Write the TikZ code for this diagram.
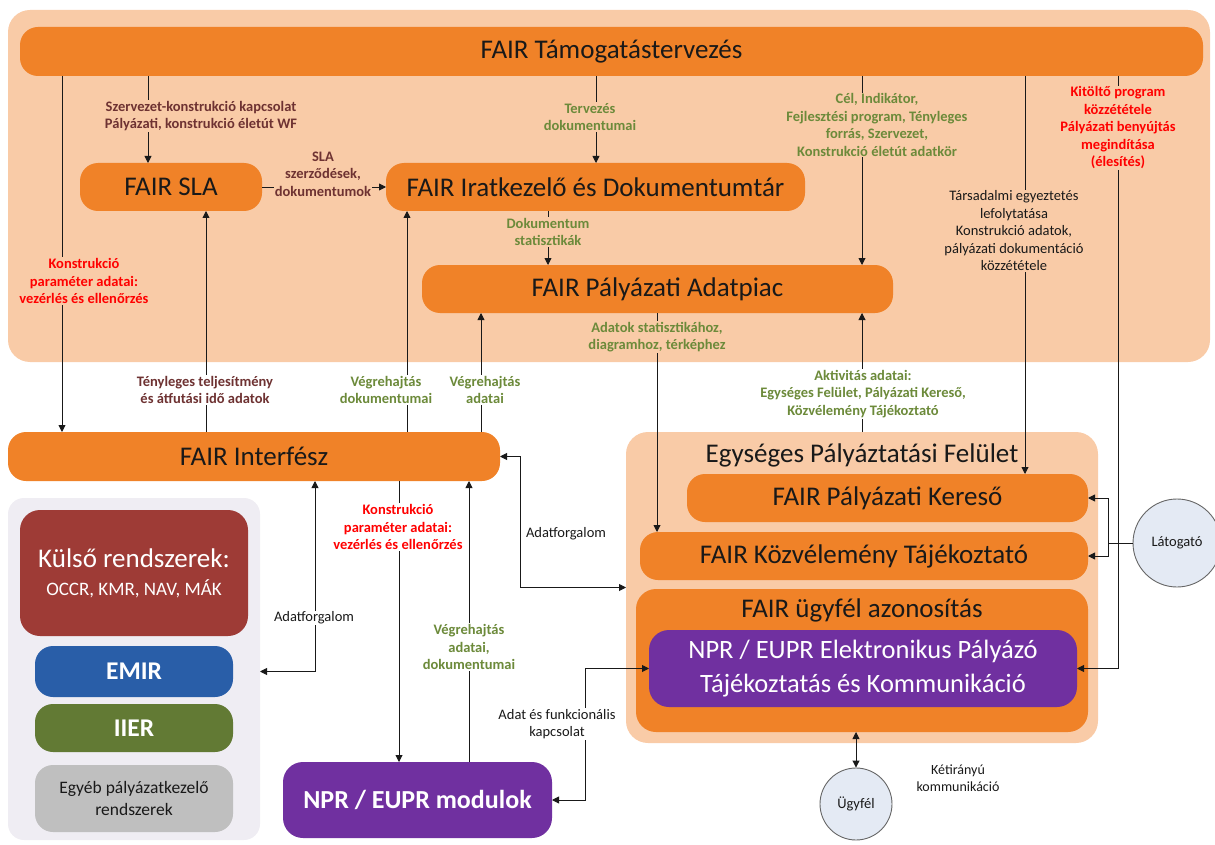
\documentclass[tikz,border=0pt]{standalone}
\usepackage{fontspec}
\setmainfont{Carlito}
\usetikzlibrary{arrows.meta,calc}
\definecolor{orng}{RGB}{240,130,40}
\definecolor{peach}{RGB}{249,203,167}
\definecolor{purp}{RGB}{112,48,160}
\definecolor{dred}{RGB}{158,59,54}
\definecolor{eblue}{RGB}{41,94,168}
\definecolor{egreen}{RGB}{98,122,52}
\definecolor{lgrey}{RGB}{191,191,191}
\definecolor{gpan}{RGB}{239,237,243}
\definecolor{circ}{RGB}{228,234,244}
\definecolor{lgreen}{RGB}{108,138,58}
\definecolor{maroon}{RGB}{110,50,50}
\definecolor{lred}{RGB}{255,0,0}
\definecolor{ink}{RGB}{25,25,25}
\tikzset{
  box/.style={rounded corners=18pt, fill=orng, inner sep=0pt, outer sep=0pt,
    font=\fontsize{27}{32}\selectfont, text=ink, align=center},
  panel/.style={rounded corners=22pt, fill=peach, inner sep=0pt, outer sep=0pt},
  pbox/.style={box, fill=purp, text=white},
  lab/.style={font=\bfseries\fontsize{14.5}{17.5}\selectfont, align=center, inner sep=1pt},
  nlab/.style={font=\fontsize{14.5}{17.5}\selectfont, align=center, inner sep=1pt, text=ink},
  conn/.style={draw=ink, line width=0.9pt},
  arr/.style={conn, -{Triangle[length=7pt,width=7pt]}},
  arrb/.style={conn, {Triangle[length=7pt,width=7pt]}-{Triangle[length=7pt,width=7pt]}},
  person/.style={circle, fill=circ, draw=black!60, line width=0.9pt, inner sep=0pt,
    font=\fontsize{14.5}{16}\selectfont, text=ink}
}
\begin{document}
\begin{tikzpicture}[x=1pt,y=-1pt]
\useasboundingbox (0,0) rectangle (1215,845);
% panels
\node[panel, minimum width=1202pt, minimum height=352pt] (top) at (609,186) {};
\node[panel, fill=gpan, rounded corners=16pt, minimum width=252pt, minimum height=342pt] (gp) at (134,669) {};
\node[panel, minimum width=472pt, minimum height=311pt] (egyp) at (862,587.5) {};
\node[font=\fontsize{27}{32}\selectfont, text=ink] (egyt) at (862,455) {Egységes Pályáztatási Felület};
% main boxes
\node[box, minimum width=1183pt, minimum height=49pt] (tam) at (611.5,51.5) {FAIR Támogatástervezés};
\node[box, minimum width=182pt, minimum height=48pt] (sla) at (171,187) {FAIR SLA};
\node[box, minimum width=419pt, minimum height=48pt] (irat) at (595.5,187) {FAIR Iratkezelő és Dokumentumtár};
\node[box, minimum width=471pt, minimum height=48pt] (adat) at (657.5,289) {FAIR Pályázati Adatpiac};
\node[box, minimum width=492pt, minimum height=49pt] (intf) at (254,456.5) {FAIR Interfész};
\node[box, minimum width=401pt, minimum height=48pt] (ker) at (887.5,498) {FAIR Pályázati Kereső};
\node[box, minimum width=448pt, minimum height=48pt] (koz) at (864,556) {FAIR Közvélemény Tájékoztató};
\node[box, rounded corners=20pt, minimum width=452pt, minimum height=143pt] (ugy) at (862,660.5) {};
\node[font=\fontsize{27}{32}\selectfont, text=ink] (ugyt) at (862,610) {FAIR ügyfél azonosítás};
\node[pbox, rounded corners=20pt, minimum width=428pt, minimum height=77pt, font=\fontsize{26.5}{34}\selectfont] (npre) at (863,668.5) {NPR / EUPR Elektronikus Pályázó\\Tájékoztatás és Kommunikáció};
\node[pbox, rounded corners=20pt, minimum width=269pt, minimum height=76pt, font=\bfseries\fontsize{26}{30}\selectfont] (npr) at (417.5,800) {NPR / EUPR modulok};
% left systems
\node[box, fill=dred, text=white, rounded corners=20pt, minimum width=228pt, minimum height=126pt, font=\fontsize{27}{32}\selectfont] (kul) at (134,573) {Külső rendszerek:\\[-4pt]{\fontsize{19}{22}\selectfont OCCR, KMR, NAV, MÁK}};
\node[box, fill=eblue, text=white, minimum width=198pt, minimum height=51pt, font=\bfseries\fontsize{25.5}{30}\selectfont] (emir) at (134,671.5) {EMIR};
\node[box, fill=egreen, text=white, minimum width=198pt, minimum height=48pt, font=\bfseries\fontsize{25.5}{30}\selectfont] (iier) at (134,728) {IIER};
\node[box, fill=lgrey, text=ink, minimum width=198pt, minimum height=67pt, font=\fontsize{17.5}{22}\selectfont] (egyeb) at (134,798.5) {Egyéb pályázatkezelő\\rendszerek};
% persons
\node[person, minimum size=88pt] (lat) at (1177,543) {Látogató};
\node[person, minimum size=72pt] (ugyf) at (856,804) {Ügyfél};
% helper coordinates
\coordinate (x62) at (62,0);
\coordinate (x148) at (148,0);
\coordinate (x596) at (596,0);
\coordinate (x862) at (862,0);
\coordinate (x1025) at (1025,0);
\coordinate (j7) at (1118,668.5);
\coordinate (x548) at (548,0);
\coordinate (x657) at (657,0);
\coordinate (x206) at (206,0);
\coordinate (x407) at (407,0);
\coordinate (x481) at (481,0);
\coordinate (j14) at (315,671.5);
\coordinate (x399) at (399,0);
\coordinate (x469) at (469,0);
\coordinate (j17) at (520,587.5);
\coordinate (j18) at (585,668.5);
\coordinate (jb) at (1108,543);
% connectors
\draw[arr] (tam.south -| x62) -- (intf.north -| x62);
\draw[arr] (tam.south -| x148) -- (sla.north -| x148);
\draw[arr] (tam.south -| x596) -- (irat.north -| x596);
\draw[arr] (tam.south -| x862) -- (adat.north -| x862);
\draw[arr] (tam.south -| x1025) -- (ker.north -| x1025);
\draw[arr] (tam.south -| j7) -- (j7) -- (npre.east);
\draw[arr] (sla.east) -- (irat.west);
\draw[arr] (irat.south -| x548) -- (adat.north -| x548);
\draw[arr] (adat.south -| x657) -- (koz.north -| x657);
\draw[arr] (egyp.north -| x862) -- (adat.south -| x862);
\draw[arr] (intf.north -| x206) -- (sla.south -| x206);
\draw[arr] (intf.north -| x407) -- (irat.south -| x407);
\draw[arr] (intf.north -| x481) -- (adat.south -| x481);
\draw[arrb] (gp.east |- j14) -- (j14) -- (intf.south -| j14);
\draw[arr] (intf.south -| x399) -- (npr.north -| x399);
\draw[arrb] (intf.east) -| (j17) -- (egyp.west);
\draw[arrb] (npr.east) -| (j18) -- (npre.west);
\draw[conn] (lat.west) -- (jb);
\draw[arr] (jb) |- (ker.east);
\draw[arr] (jb) |- (koz.east);
\draw[arrb] (ugy.south -| ugyf) -- (ugyf.north);
% labels
\node[lab, text=lred, fill=peach] (l1) at (84,281) {Konstrukció\\paraméter adatai:\\vezérlés és ellenőrzés};
\node[lab, text=maroon, fill=peach] (l2) at (201,116) {Szervezet-konstrukció kapcsolat\\Pályázati, konstrukció életút WF};
\node[lab, text=lgreen, fill=peach] (l3) at (590,117) {Tervezés\\dokumentumai};
\node[lab, text=maroon, fill=peach] (l4) at (323,174) {SLA\\szerződések,\\dokumentumok};
\node[lab, text=lgreen, fill=peach] (l5) at (877,125) {Cél, Indikátor,\\Fejlesztési program, Tényleges\\forrás, Szervezet,\\Konstrukció életút adatkör};
\node[nlab, fill=peach] (l6) at (1014,231) {Társadalmi egyeztetés\\lefolytatása\\Konstrukció adatok,\\pályázati dokumentáció\\közzététele};
\node[lab, text=lred, fill=peach] (l7) at (1118,128) {Kitöltő program\\közzététele\\Pályázati benyújtás\\megindítása\\(élesítés)};
\node[lab, text=lgreen, fill=peach] (l8) at (548,232) {Dokumentum\\statisztikák};
\node[lab, text=lgreen, fill=peach] (l9) at (657,337) {Adatok statisztikához,\\diagramhoz, térképhez};
\node[lab, text=lgreen, fill=white] (l10) at (863,394) {Aktivitás adatai:\\Egységes Felület, Pályázati Kereső,\\Közvélemény Tájékoztató};
\node[lab, text=maroon, fill=white] (l11) at (205,390) {Tényleges teljesítmény\\és átfutási idő adatok};
\node[lab, text=lgreen, fill=white] (l12) at (386,390) {Végrehajtás\\dokumentumai};
\node[lab, text=lgreen, fill=white] (l13) at (485,390) {Végrehajtás\\adatai};
\node[nlab, fill=white] (l14) at (314,618) {Adatforgalom};
\node[lab, text=lred, fill=white] (l15) at (398,527) {Konstrukció\\paraméter adatai:\\vezérlés és ellenőrzés};
\node[lab, text=lgreen, fill=white] (l16) at (469,647) {Végrehajtás\\adatai,\\dokumentumai};
\node[nlab] (l17) at (566,534) {Adatforgalom};
\node[nlab, fill=white] (l18) at (557,724) {Adat és funkcionális\\kapcsolat};
\node[nlab, font=\fontsize{14}{17}\selectfont] (l19) at (958,778) {Kétirányú\\kommunikáció};
% line drawn over the red label, broken at its own label
\draw[conn] (npr.north -| x469) -- (l16.south -| x469);
\draw[arr] (l16.north -| x469) -- (intf.south -| x469);
\end{tikzpicture}
\end{document}
